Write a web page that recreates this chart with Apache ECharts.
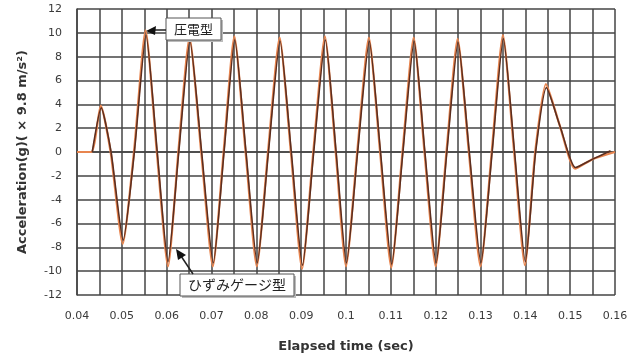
<!DOCTYPE html>
<html>
<head>
<meta charset="utf-8">
<script src="https://cdn.jsdelivr.net/npm/echarts@6/dist/echarts.min.js"></script>
<style>html,body{margin:0;padding:0;background:#fff}#c{width:639px;height:360px}</style>
</head>
<body>
<div id="c"></div>
<script>
// Strain gauge type (ひずみゲージ型) : [time (s), acceleration (g)]
const strainGauge = [
  [0.0434, 0], [0.0454, 3.7], [0.0476, 0], [0.0503, -7.4], [0.0528, 0],
  [0.0554, 9.8], [0.0579, 0], [0.0603, -9.2], [0.0627, 0], [0.0652, 9.3],
  [0.0678, 0], [0.0704, -9.3], [0.0728, 0], [0.0752, 9.4], [0.0777, 0],
  [0.0802, -9.3], [0.0827, 0], [0.0853, 9.3], [0.0878, 0], [0.0903, -9.5],
  [0.0928, 0], [0.0954, 9.4], [0.0978, 0], [0.1001, -9.3], [0.1026, 0],
  [0.1052, 9.3], [0.1077, 0], [0.1102, -9.4], [0.1127, 0], [0.1152, 9.3],
  [0.1176, 0], [0.1201, -9.3], [0.1225, 0], [0.1250, 9.2], [0.1275, 0],
  [0.1301, -9.3], [0.1326, 0], [0.1351, 9.5], [0.1376, 0], [0.1400, -9.2],
  [0.1423, 0], [0.1447, 5.4], [0.1478, 2.1], [0.1512, -1.3], [0.1550, -0.6],
  [0.1590, 0.1]
];
// Piezoelectric type (圧電型)
const piezo = [
  [0.0400, 0], [0.0432, 0], [0.0453, 3.9], [0.0475, 0], [0.0502, -7.7], [0.0527, 0],
  [0.0553, 10.2], [0.0578, 0], [0.0603, -9.6], [0.0626, 0], [0.0651, 9.6],
  [0.0677, 0], [0.0703, -9.6], [0.0727, 0], [0.0751, 9.7], [0.0776, 0],
  [0.0801, -9.6], [0.0826, 0], [0.0852, 9.6], [0.0877, 0], [0.0902, -9.8],
  [0.0927, 0], [0.0953, 9.7], [0.0977, 0], [0.1000, -9.6], [0.1025, 0],
  [0.1051, 9.6], [0.1076, 0], [0.1101, -9.7], [0.1126, 0], [0.1151, 9.6],
  [0.1175, 0], [0.1200, -9.6], [0.1224, 0], [0.1249, 9.5], [0.1274, 0],
  [0.1300, -9.6], [0.1325, 0], [0.1350, 9.8], [0.1375, 0], [0.1399, -9.5],
  [0.1422, 0], [0.1446, 5.7], [0.1477, 2.2], [0.1511, -1.4], [0.1550, -0.6],
  [0.1600, 0]
];
const xTickLabels = ['0.04','0.05','0.06','0.07','0.08','0.09','0.1','0.11','0.12','0.13','0.14','0.15','0.16'];
const yTickLabels = ['-12','-10','-8','-6','-4','-2','0','2','4','6','8','10','12'];
const xAxisTitle = 'Elapsed time (sec)';
const yAxisTitle = 'Acceleration(g)( × 9.8 m/s²)';
const piezoLabel = '圧電型';
const strainLabel = 'ひずみゲージ型';

const chart = echarts.init(document.getElementById('c'), null, {renderer: 'canvas'});
const gridColor = '#444';
const font = 'DejaVu Sans';
chart.setOption({
  animation: false,
  backgroundColor: '#fff',
  grid: {left: 77, right: 24, top: 9, bottom: 65},
  xAxis: {
    type: 'value', min: 0.04, max: 0.16, interval: 0.005,
    name: xAxisTitle, nameLocation: 'middle', nameGap: 45,
    nameTextStyle: {fontFamily: font, fontSize: 13, color: '#333', fontWeight: 'bold'},
    axisLine: {show: true, lineStyle: {color: gridColor, width: 1.5}},
    axisTick: {show: false},
    axisLabel: {
      fontFamily: font, fontSize: 11, color: '#3a3a3a', margin: 16,
      formatter: function (v) {
        const n = Math.round(v * 1000);
        if (n % 10 !== 0) return '';
        const idx = (n - 40) / 10;
        return xTickLabels[idx] || '';
      }
    },
    splitLine: {show: true, lineStyle: {color: gridColor, width: 1.5}}
  },
  yAxis: {
    type: 'value', min: -12, max: 12, interval: 2,
    name: yAxisTitle, nameLocation: 'middle', nameGap: 48, nameRotate: 90,
    nameTextStyle: {fontFamily: font, fontSize: 13, color: '#333', fontWeight: 'bold'},
    axisLine: {show: true, lineStyle: {color: gridColor, width: 1.5}},
    axisTick: {show: false},
    axisLabel: {
      fontFamily: font, fontSize: 11, color: '#3a3a3a', margin: 15,
      formatter: function (v) { return yTickLabels[Math.round((v + 12) / 2)]; }
    },
    splitLine: {show: true, lineStyle: {color: gridColor, width: 1.5}}
  },
  series: [
    {
      name: piezoLabel, type: 'line', data: piezo, showSymbol: false, smooth: 0.2,
      lineStyle: {color: '#e8854f', width: 2.2}, z: 3
    },
    {
      name: strainLabel, type: 'line', data: strainGauge, showSymbol: false, smooth: 0.2,
      lineStyle: {color: '#5b2e20', width: 1.6}, z: 4
    }
  ],
  graphic: [
    // 圧電型 callout
    {type: 'rect', shape: {x: 168, y: 20, width: 55, height: 22}, style: {fill: '#bbb'}, z: 10},
    {type: 'rect', shape: {x: 166, y: 18, width: 55, height: 22}, style: {fill: '#fff', stroke: '#555', lineWidth: 1}, z: 11},
    {type: 'text', x: 193.5, y: 29, style: {text: piezoLabel, fontFamily: 'Noto Sans CJK JP', fontSize: 13, fill: '#222', align: 'center', verticalAlign: 'middle'}, z: 12},
    {type: 'line', shape: {x1: 166, y1: 30, x2: 154, y2: 30}, style: {stroke: '#222', lineWidth: 1.5}, z: 12},
    {type: 'polygon', shape: {points: [[146, 31], [156, 26], [155, 35]]}, style: {fill: '#111'}, z: 12},
    // ひずみゲージ型 callout
    {type: 'rect', shape: {x: 182, y: 276, width: 114, height: 22}, style: {fill: '#bbb'}, z: 10},
    {type: 'rect', shape: {x: 180, y: 274, width: 114, height: 22}, style: {fill: '#fff', stroke: '#555', lineWidth: 1}, z: 11},
    {type: 'text', x: 237, y: 285, style: {text: strainLabel, fontFamily: 'Noto Sans CJK JP', fontSize: 14, fill: '#222', align: 'center', verticalAlign: 'middle'}, z: 12},
    {type: 'line', shape: {x1: 193, y1: 274, x2: 181, y2: 256}, style: {stroke: '#222', lineWidth: 1.5}, z: 12},
    {type: 'polygon', shape: {points: [[176, 249], [186, 255], [178, 260]]}, style: {fill: '#111'}, z: 12}
  ]
});
</script>
</body>
</html>
